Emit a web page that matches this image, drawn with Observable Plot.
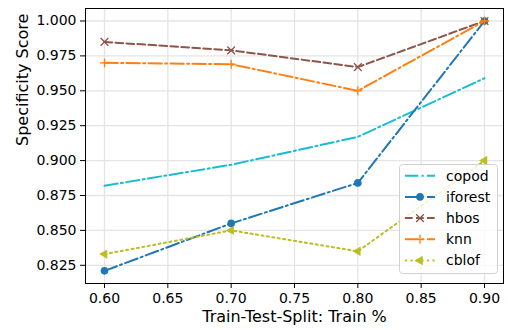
<!DOCTYPE html>
<html><head><meta charset="utf-8">
<script src="https://cdn.jsdelivr.net/npm/d3@7"></script>
<script src="https://cdn.jsdelivr.net/npm/@observablehq/plot@0.6"></script>
<style>
body{margin:0;background:#fff;font-family:"DejaVu Sans",sans-serif;}
#wrap{position:relative;width:508px;height:330px;}
#legend{position:absolute;left:399px;top:164px;}
</style></head>
<body><div id="wrap"></div>
<script>
const trainSplits = [0.6, 0.7, 0.8, 0.9];
const seriesNames = ["copod", "iforest", "hbos", "knn", "cblof"];
const copod   = [0.882, 0.897, 0.917, 0.959];
const iforest = [0.821, 0.855, 0.884, 1.000];
const hbos    = [0.985, 0.979, 0.967, 1.000];
const knn     = [0.970, 0.969, 0.950, 1.000];
const cblof   = [0.833, 0.850, 0.835, 0.900];
const seriesValues = [copod, iforest, hbos, knn, cblof];
const seriesColors = ["#17becf", "#1f77b4", "#8c564b", "#ff7f0e", "#bcbd22"];
const seriesDash = ["13.3,3.3,2.1,3.3", "13.3,3.3,2.1,3.3", "7.7,3.3", "13.3,3.3,2.1,3.3", "2.1,3.4"];
const seriesSymbol = [null, "circle", "times", "plus", "triangle"];
const xTicks = [0.60, 0.65, 0.70, 0.75, 0.80, 0.85, 0.90];
const yTicks = [0.825, 0.850, 0.875, 0.900, 0.925, 0.950, 0.975, 1.000];
const xLabel = "Train-Test-Split: Train %";
const yLabel = "Specificity Score";

const rows = seriesNames.map((name, i) => trainSplits.map((x, j) => ({series: name, x, y: seriesValues[i][j]})));
const symR = {circle: 3.8, times: 3.6, plus: 3.0, triangle: 3.5};

const marks = [
  Plot.gridX(xTicks, {stroke: "#e4e4e4", strokeOpacity: 1, strokeWidth: 1.3}),
  Plot.gridY(yTicks, {stroke: "#e4e4e4", strokeOpacity: 1, strokeWidth: 1.3}),
  Plot.axisX({ticks: xTicks, tickFormat: d3.format(".2f"), tickSize: 5, tickPadding: 5, label: null, fontSize: 14}),
  Plot.axisY({ticks: yTicks, tickFormat: d3.format(".3f"), tickSize: 5, tickPadding: 4, label: null, fontSize: 14}),
  Plot.text([xLabel], {frameAnchor: "bottom", dy: 38, fontSize: 16, fill: "black"}),
  Plot.text([yLabel], {frameAnchor: "left", rotate: -90, dx: -63, fontSize: 16, fill: "black"})
];
seriesNames.forEach((name, i) => {
  marks.push(Plot.line(rows[i], {x: "x", y: "y", stroke: seriesColors[i], strokeWidth: 2, strokeDasharray: seriesDash[i]}));
  const s = seriesSymbol[i];
  if (s === "circle") marks.push(Plot.dot(rows[i], {x: "x", y: "y", r: symR.circle, fill: seriesColors[i], symbol: "circle"}));
  if (s === "times") marks.push(Plot.dot(rows[i], {x: "x", y: "y", r: symR.times, stroke: seriesColors[i], strokeWidth: 1.3, symbol: "times"}));
  if (s === "plus") marks.push(Plot.dot(rows[i], {x: "x", y: "y", r: symR.plus, stroke: seriesColors[i], strokeWidth: 1.3, symbol: "plus"}));
  if (s === "triangle") marks.push(Plot.dot(rows[i], {x: "x", y: "y", r: symR.triangle, fill: seriesColors[i], symbol: "triangle", rotate: -90}));
});
marks.push(Plot.frame({stroke: "black", strokeWidth: 1}));

const chart = Plot.plot({
  width: 508, height: 330,
  marginLeft: 85, marginRight: 5, marginTop: 8, marginBottom: 47,
  style: {fontFamily: "DejaVu Sans, sans-serif", fontSize: "14px", color: "black", background: "white"},
  x: {domain: [0.585, 0.915]},
  y: {domain: [0.81195, 1.00895]},
  marks
});
const wrap = document.getElementById("wrap");
wrap.appendChild(chart);

// legend overlay
const lw = 99, lh = 110;
const leg = d3.select(wrap).append("svg").attr("id", "legend").attr("width", lw).attr("height", lh);
leg.append("rect").attr("x", 0.5).attr("y", 0.5).attr("width", lw - 1).attr("height", lh - 1).attr("rx", 3)
  .attr("fill", "rgba(255,255,255,0.8)").attr("stroke", "#d0d0d0");
const sym = {circle: d3.symbolCircle, times: d3.symbolTimes, plus: d3.symbolPlus, triangle: d3.symbolTriangle};
seriesNames.forEach((name, i) => {
  const g = leg.append("g").attr("transform", `translate(0,${11.7 + i * 21.2})`);
  g.append("line").attr("x1", 6).attr("x2", 36).attr("stroke", seriesColors[i]).attr("stroke-width", 2)
    .attr("stroke-dasharray", seriesDash[i]);
  const s = seriesSymbol[i];
  if (!s) {}
  else if (s === "circle") g.append("circle").attr("cx", 21).attr("r", symR.circle).attr("fill", seriesColors[i]);
  else if (s === "times" || s === "plus") g.append("path").attr("transform", "translate(21,0)")
    .attr("d", d3.symbol(sym[s], Math.PI * symR[s] * symR[s])()).attr("fill", "none").attr("stroke", seriesColors[i]).attr("stroke-width", 1.3);
  else g.append("path").attr("transform", "translate(21,0) rotate(-90)")
    .attr("d", d3.symbol(d3.symbolTriangle, Math.PI * symR.triangle * symR.triangle)()).attr("fill", seriesColors[i]);
  g.append("text").attr("x", 47).attr("dy", "0.35em").attr("font-size", 14).attr("font-family", "DejaVu Sans, sans-serif")
    .attr("fill", "black").text(name);
});
</script></body></html>
